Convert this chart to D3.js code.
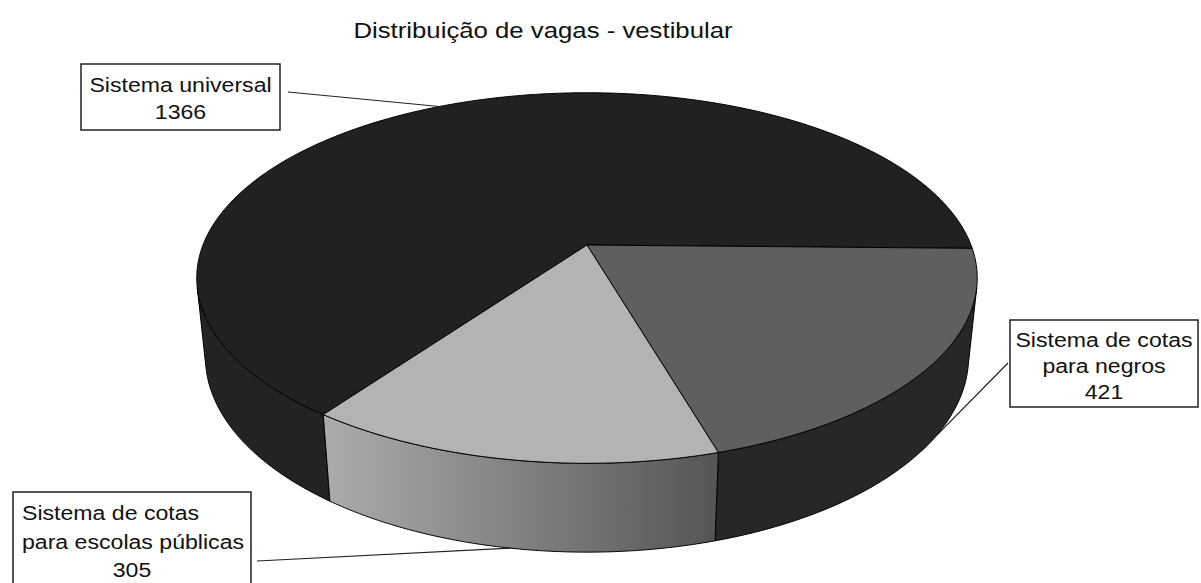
<!DOCTYPE html>
<html>
<head>
<meta charset="utf-8">
<script src="https://cdn.jsdelivr.net/npm/d3@7"></script>
<style>
  body { margin: 0; background: #fff; }
  svg { display: block; }
</style>
</head>
<body>
<script>
// data
var title = 'Distribuição de vagas - vestibular';
var categories = ['Sistema universal', 'Sistema de cotas para negros', 'Sistema de cotas para escolas públicas'];
var values = [1366, 421, 305];
var labelLines = [['Sistema universal'], ['Sistema de cotas', 'para negros'], ['Sistema de cotas', 'para escolas públicas']];

var topColors = ['#212121', '#5f5f5f', '#b3b3b3'];
var sideColors = ['#232323', '#272727', 'url(#sideGrad)'];

var width = 1201, height = 583;
var font = "'Liberation Sans', Arial, sans-serif";
var stretch = 1.1; // text in the picture is a bit wide

var svg = d3.select('body').append('svg')
    .attr('width', width)
    .attr('height', height);

// 3d view of the disc (perspective)
var view = { cx: 587, cy: 245, r: 384, tilt: 27.85 * Math.PI / 180, dist: 4.96, depth: 0.235 };
var sinT = Math.sin(view.tilt), cosT = Math.cos(view.tilt);

function project(a, level) {
  // a: clockwise from 12 o'clock, level: 0 = top face, 1 = bottom
  var X = Math.sin(a), Z = -Math.cos(a), Y = -level * view.depth;
  var v = Z * sinT - Y * cosT;
  var w = Z * cosT + Y * sinT;
  var f = view.dist / (view.dist - w);
  return [view.cx + view.r * X * f, view.cy + view.r * v * f];
}

function rim(a0, a1, level) {
  var n = Math.max(2, Math.ceil(Math.abs(a1 - a0) / (Math.PI / 360)));
  var pts = [];
  for (var i = 0; i <= n; i++) pts.push(project(a0 + (a1 - a0) * i / n, level));
  return pts;
}

// part of the side wall that faces the camera
var visA = Math.acos(-1 / (view.dist * cosT));
var visB = 2 * Math.PI - visA;

var firstSlice = 216 * Math.PI / 180;
var pie = d3.pie().sort(null).value(function(d) { return d; })
    .startAngle(firstSlice).endAngle(firstSlice + 2 * Math.PI);
var arcs = pie(values);

var line = d3.line();

// gradient for the light slice wall
var defs = svg.append('defs');

var sides = svg.append('g');
arcs.forEach(function(d, i) {
  for (var k = -1; k <= 1; k++) {
    var lo = Math.max(d.startAngle, visA + 2 * Math.PI * k);
    var hi = Math.min(d.endAngle, visB + 2 * Math.PI * k);
    if (hi <= lo) continue;
    var top = rim(lo, hi, 0);
    var bottom = rim(hi, lo, 1);
    if (i === 2) {
      var xs = top.map(function(p) { return p[0]; });
      var g = defs.append('linearGradient').attr('id', 'sideGrad')
          .attr('gradientUnits', 'userSpaceOnUse')
          .attr('x1', d3.min(xs)).attr('x2', d3.max(xs)).attr('y1', 0).attr('y2', 0);
      g.append('stop').attr('offset', 0).attr('stop-color', '#acacac');
      g.append('stop').attr('offset', 1).attr('stop-color', '#555555');
    }
    sides.append('path')
        .attr('d', line(top.concat(bottom)) + 'Z')
        .attr('fill', sideColors[i])
        .attr('stroke', '#000')
        .attr('stroke-width', 1)
        .attr('stroke-linejoin', 'round');
  }
});

var tops = svg.append('g');
arcs.forEach(function(d, i) {
  var pts = [[view.cx, view.cy]].concat(rim(d.startAngle, d.endAngle, 0));
  tops.append('path')
      .attr('d', line(pts) + 'Z')
      .attr('fill', topColors[i])
      .attr('stroke', '#000')
      .attr('stroke-width', 1)
      .attr('stroke-linejoin', 'round');
});

// title
svg.append('text')
    .attr('transform', 'translate(543,38) scale(1.12,1)')
    .attr('text-anchor', 'middle')
    .style('font-family', font)
    .style('font-size', '23px')
    .attr('fill', '#111')
    .text(title);

// data labels (box, text lines, leader start)
var labelBoxes = [
  { x: 81, y: 64, w: 199, h: 66, first: 92, step: 27, align: ['middle', 'middle'], lead: [288, 92] },
  { x: 1010, y: 320, w: 188, h: 87, first: 347, step: 26, align: ['middle', 'middle', 'middle'], lead: [1008, 363] },
  { x: 13, y: 492, w: 238, h: 100, first: 520, step: 28.5, align: ['start', 'start', 'middle'], lead: [257, 561] }
];

var labels = svg.append('g');
arcs.forEach(function(d, i) {
  var b = labelBoxes[i];
  var mid = ((d.startAngle + d.endAngle) / 2) % (2 * Math.PI);
  var onSide = mid > visA && mid < visB;
  var end = project(mid, onSide ? 1 : 0);

  labels.append('line')
      .attr('x1', b.lead[0]).attr('y1', b.lead[1])
      .attr('x2', end[0]).attr('y2', end[1])
      .attr('stroke', '#222')
      .attr('stroke-width', 1.2);

  labels.append('rect')
      .attr('x', b.x).attr('y', b.y)
      .attr('width', b.w).attr('height', b.h)
      .attr('fill', '#fff')
      .attr('stroke', '#222')
      .attr('stroke-width', 1.5);

  var lines = labelLines[i].concat([String(values[i])]);
  lines.forEach(function(txt, j) {
    var anchor = b.align[j];
    var x = anchor === 'middle' ? b.x + b.w / 2 : b.x + 9;
    labels.append('text')
        .attr('transform', 'translate(' + x + ',' + (b.first + j * b.step) + ') scale(' + stretch + ',1)')
        .attr('text-anchor', anchor)
        .style('font-family', font)
        .style('font-size', '21px')
        .attr('fill', '#111')
        .text(txt);
  });
});
</script>
</body>
</html>
